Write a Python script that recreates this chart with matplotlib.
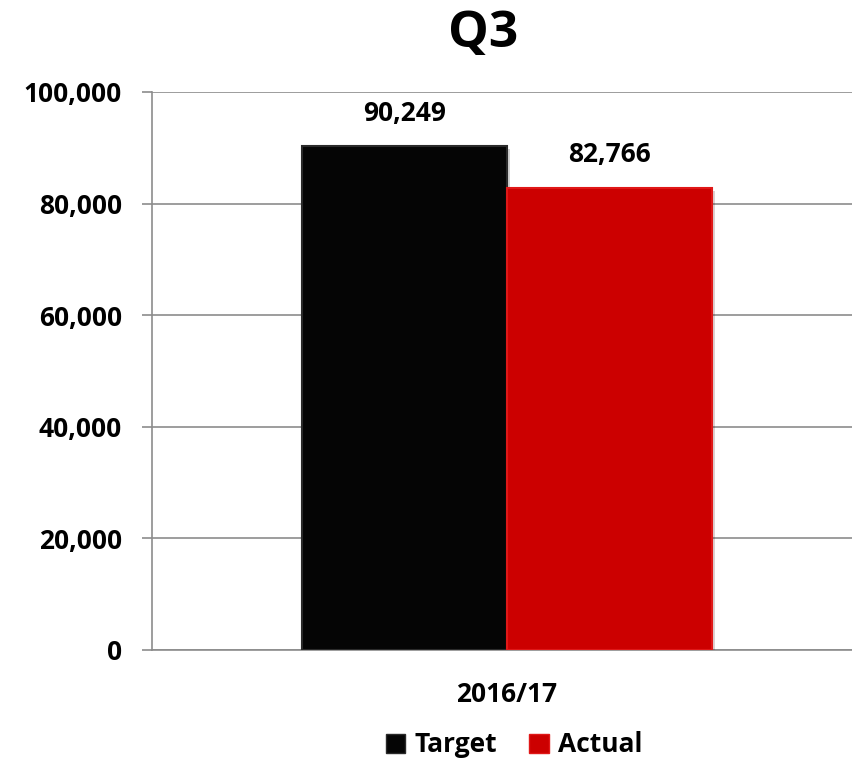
import matplotlib
matplotlib.use("Agg")
import matplotlib.pyplot as plt
import matplotlib.patheffects as pe
from matplotlib.patches import Patch
from matplotlib.ticker import FuncFormatter

title = "Q3"
category = "2016/17"
series = ["Target", "Actual"]
values = [90249, 82766]
colors = ["#050505", "#CC0000"]
edge_colors = ["#2a2a2a", "#e01818"]
yticks = [0, 20000, 40000, 60000, 80000, 100000]

plt.rcParams['font.family'] = ['Open Sans', 'DejaVu Sans']
plt.rcParams['font.weight'] = 'bold'

fig = plt.figure(figsize=(8.52, 7.59), dpi=100)
ax = fig.add_axes([152/852, 1-650/759, 700/852, (650-92)/759])

w = 205/700
offsets = [-w/2, w/2]
for s, v, c, ec, o in zip(series, values, colors, edge_colors, offsets):
    ax.bar(o, v, width=w, color=c, edgecolor=ec, linewidth=1.5, label=s, zorder=3,
           path_effects=[pe.SimplePatchShadow(offset=(2, -2), alpha=0.18), pe.Normal()])
    ax.annotate(f"{v:,}", (o, v), xytext=(0, 24), textcoords="offset points",
                ha="center", va="center", fontsize=19, fontweight="bold", color="black")

ax.set_xlim(-355/700, 345/700)
ax.set_ylim(0, 100000)
ax.set_yticks(yticks)
ax.yaxis.set_major_formatter(FuncFormatter(lambda v, p: f"{int(v):,}"))
ax.grid(axis="y", color="#8c8c8c", linewidth=1.2, zorder=0)
ax.set_xticks([0])
ax.set_xticklabels([category])
for sp in ["top", "right"]:
    ax.spines[sp].set_visible(False)
for sp in ["left", "bottom"]:
    ax.spines[sp].set_color("#8c8c8c")
    ax.spines[sp].set_linewidth(1.2)
ax.tick_params(axis="y", length=7.5, color="#8c8c8c", width=1.2, labelsize=19, pad=14)
ax.tick_params(axis="x", length=0, labelsize=19, pad=22)
for t in ax.get_yticklabels() + ax.get_xticklabels():
    t.set_fontweight("bold")

fig.text(483/852, 1-34/759, title, ha="center", va="center", fontsize=37, fontweight="bold")

handles = [Patch(facecolor=c, edgecolor=ec, linewidth=1.0) for c, ec in zip(colors, edge_colors)]
fig.legend(handles=handles, labels=series, loc="center",
           bbox_to_anchor=(514/852, 1-745/759), ncol=2, frameon=False,
           prop={"weight": "bold", "size": 19}, handlelength=0.75, handleheight=0.75,
           handletextpad=0.35, columnspacing=1.2)

fig.savefig("out.png", dpi=100)
